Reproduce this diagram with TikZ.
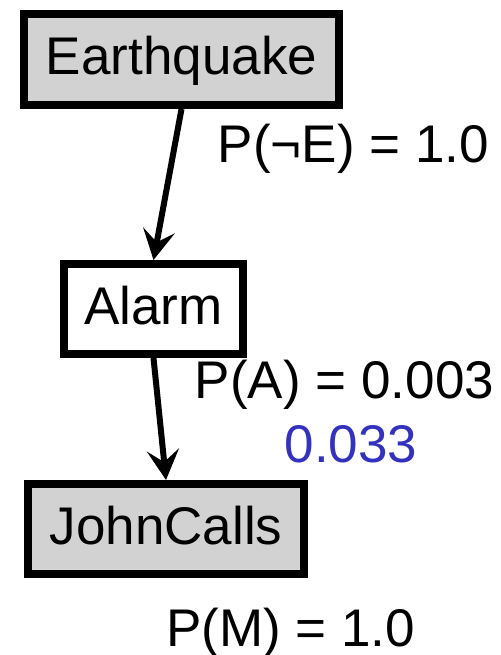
\documentclass[tikz,border=0pt]{standalone}
\usepackage{fontspec}
\setmainfont{Liberation Sans}
\usetikzlibrary{arrows.meta}
\definecolor{boxgray}{RGB}{210,210,210}
\definecolor{probblue}{RGB}{50,50,190}
\tikzset{
  varbox/.style={draw=black, line width=8pt, inner sep=0pt, outer sep=4pt,
    text height=37pt, text depth=6pt, font=\fontsize{53}{60}\selectfont},
  observed/.style={varbox, fill=boxgray},
  hidden/.style={varbox, fill=white},
  prob/.style={anchor=base, inner sep=0pt, font=\fontsize{53}{60}\selectfont},
  arr/.style={line width=6pt, -{Stealth[length=30pt,width=32pt,inset=12pt]}}
}
\begin{document}
\begin{tikzpicture}[x=1pt,y=-1pt]
  \useasboundingbox (0,0) rectangle (500,655);
  % network nodes
  \node[observed, minimum width=315pt, minimum height=91pt] (eq) at (181.5,59.5) {Earthquake};
  \node[hidden, minimum width=179pt, minimum height=90pt] (al) at (153.5,309) {Alarm};
  \node[observed, minimum width=276pt, minimum height=90pt] (jc) at (166,529) {JohnCalls};
  % edges
  \draw[arr] (eq.south) -- (al.north);
  \draw[arr] (al.south) -- (jc.north);
  % probability labels
  \node[prob] (pe) at (353.5,163) {P(¬E) = 1.0};
  \node[prob] (pa) at (344.5,398) {P(A) = 0.003};
  \node[prob, text=probblue] (pa2) at (351,462) {0.033};
  \node[prob] (pm) at (290.5,646) {P(M) = 1.0};
\end{tikzpicture}
\end{document}
